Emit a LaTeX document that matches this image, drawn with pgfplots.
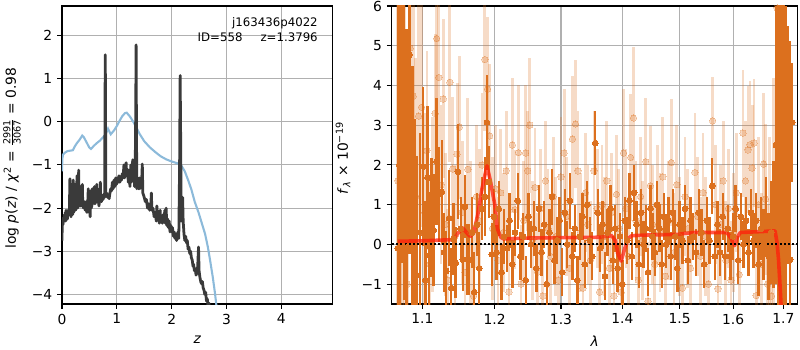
\documentclass[border=0pt]{standalone}
\usepackage{fontspec}
\setmainfont{DejaVu Sans}
\usepackage{amsmath}
\usepackage{pgfplots}
\usepackage{pgfplotstable}
\pgfplotsset{compat=1.18}
\definecolor{dk}{RGB}{220,112,30}
\definecolor{gridc}{RGB}{176,176,176}
\definecolor{blk}{RGB}{58,58,58}
\definecolor{blu}{RGB}{140,186,218}
\definecolor{rd}{RGB}{255,30,10}

\pgfplotstableread{
l f e
1.068 -0.10 7.0
1.070 2.00 7.0
1.073 5.53 6.0
1.076 4.59 6.0
1.079 -0.08 5.5
1.083 4.77 5.0
1.087 0.50 4.0
1.090 -0.34 3.5
1.093 -0.78 3.0
1.097 0.30 2.5
1.101 1.96 2.0
1.104 -0.90 2.0
1.107 1.68 1.8
1.109 -0.28 1.6
1.112 0.67 1.5
1.115 0.36 1.4
1.119 2.09 1.6
1.122 1.26 1.2
1.126 1.32 1.3
1.129 -0.20 1.0
1.132 -0.67 1.0
1.136 0.66 1.2
1.139 -1.10 1.0
1.142 0.14 0.9
1.145 -0.46 0.9
1.148 1.83 1.2
1.152 0.40 0.8
1.155 -0.38 0.8
1.158 0.95 0.8
1.161 -0.38 0.9
1.164 -0.38 0.9
1.168 0.30 0.9
1.171 -1.20 1.0
1.175 0.50 0.8
1.178 -0.60 0.9
1.182 0.90 0.8
1.186 1.20 1.0
1.189 3.07 1.2
1.192 1.57 0.9
1.196 -0.25 0.8
1.199 0.70 0.7
1.203 -0.20 0.7
1.206 0.90 0.7
1.210 -0.70 0.7
1.214 0.20 0.7
1.218 -0.10 0.6
1.222 0.60 0.7
1.226 -0.50 0.6
1.230 0.30 0.6
1.234 1.10 0.7
1.238 -0.30 0.6
1.242 0.20 0.6
1.246 -0.90 0.6
1.250 0.70 0.6
1.254 0.00 0.6
1.258 0.40 0.7
1.262 -0.60 0.6
1.266 0.90 0.6
1.270 -0.20 0.6
1.274 0.50 0.6
1.278 -1.00 0.6
1.282 0.30 0.6
1.286 1.20 0.7
1.290 -0.40 0.6
1.294 0.10 0.6
1.298 0.60 0.6
1.302 -0.70 0.6
1.306 0.80 0.6
1.310 0.00 0.6
1.314 1.10 0.7
1.318 -0.30 0.6
1.322 0.40 0.6
1.326 -0.90 0.6
1.330 0.20 0.6
1.334 0.70 0.6
1.338 -0.50 0.6
1.342 1.00 0.6
1.346 0.10 0.6
1.350 -0.30 0.6
1.355 2.55 0.8
1.359 0.80 0.6
1.363 -0.10 0.6
1.367 0.50 0.6
1.371 -0.80 0.6
1.375 0.30 0.6
1.380 0.90 0.6
1.384 -0.40 0.6
1.388 0.40 0.6
1.392 -0.60 0.6
1.396 0.20 0.6
1.400 -1.00 0.6
1.404 0.60 0.6
1.408 0.10 0.6
1.412 1.10 0.7
1.416 -0.30 0.6
1.420 1.30 0.7
1.424 0.50 0.6
1.428 -0.50 0.6
1.432 0.80 0.6
1.436 0.00 0.6
1.440 0.40 0.6
1.444 -0.70 0.6
1.448 0.90 0.6
1.452 0.20 0.6
1.456 -0.20 0.6
1.460 1.00 0.6
1.464 0.40 0.6
1.468 -0.50 0.6
1.472 0.70 0.6
1.476 0.00 0.6
1.480 0.60 0.6
1.484 -0.30 0.6
1.488 0.80 0.6
1.492 0.20 0.6
1.496 -0.60 0.6
1.500 0.50 0.6
1.505 0.10 0.6
1.510 0.90 0.6
1.515 -0.40 0.6
1.520 0.60 0.6
1.525 0.20 0.6
1.530 -0.20 0.6
1.535 0.80 0.6
1.540 0.30 0.6
1.545 -0.50 0.6
1.550 0.60 0.6
1.555 0.10 0.6
1.560 1.47 0.7
1.565 -0.30 0.6
1.570 0.50 0.6
1.575 -0.20 0.6
1.580 0.70 0.6
1.585 -0.30 0.6
1.590 0.40 0.6
1.595 -0.30 0.6
1.600 0.20 0.6
1.605 0.90 0.6
1.610 -0.40 0.6
1.615 0.70 0.6
1.620 0.00 0.6
1.625 0.60 0.6
1.630 -0.20 0.6
1.635 0.80 0.6
1.640 0.10 0.7
1.645 0.60 0.7
1.650 -0.50 0.8
1.655 0.40 0.8
1.660 0.00 0.9
1.665 0.70 1.0
1.670 -0.30 1.1
1.675 0.30 1.3
1.680 0.50 1.6
1.685 2.50 3.5
1.690 4.00 6.0
1.695 5.95 8.0
1.700 3.50 6.0
1.705 2.00 4.0
1.710 2.50 3.0
1.714 -0.38 5.5
1.718 3.07 1.5
}\dark

\pgfplotstableread{
l f e
1.068 1.60 6
1.071 3.70 6
1.074 0.50 6
1.077 2.70 5
1.080 -1.00 5
1.084 4.94 4
1.088 3.73 4
1.091 1.20 3.5
1.095 3.23 3
1.099 3.45 3
1.103 0.80 2.5
1.106 2.36 2.5
1.110 -0.50 2.2
1.113 1.00 2.2
1.117 3.30 2
1.119 5.18 2
1.122 4.20 2
1.125 1.50 2
1.128 3.66 2
1.131 0.50 1.8
1.134 -0.90 1.8
1.137 4.08 2
1.141 1.90 1.8
1.144 0.20 1.8
1.147 2.27 1.8
1.150 2.95 1.8
1.154 0.80 1.8
1.158 -0.70 1.8
1.162 1.89 1.8
1.166 0.30 1.8
1.170 -1.30 1.8
1.174 1.20 1.8
1.178 0.60 1.8
1.182 2.00 1.8
1.186 4.65 1.8
1.190 3.91 1.8
1.193 2.73 1.8
1.197 0.40 1.8
1.201 1.40 1.6
1.205 -0.40 1.6
1.209 1.30 1.6
1.213 0.30 1.5
1.217 1.85 1.5
1.221 -1.20 1.5
1.226 2.50 1.7
1.230 0.88 1.5
1.235 2.31 1.7
1.239 -1.00 1.5
1.243 0.60 1.5
1.246 2.30 1.7
1.249 1.85 1.5
1.252 3.00 1.7
1.256 0.10 1.5
1.260 1.43 1.5
1.264 -0.70 1.5
1.268 0.90 1.5
1.272 -1.30 1.5
1.276 1.60 1.5
1.280 0.40 1.5
1.284 -0.30 1.5
1.288 1.20 1.5
1.292 0.20 1.5
1.296 -0.90 1.5
1.300 1.70 1.5
1.305 2.30 1.6
1.309 0.70 1.5
1.313 -0.60 1.5
1.318 2.65 1.6
1.323 3.03 1.6
1.327 1.85 1.5
1.331 0.30 1.5
1.335 -1.10 1.5
1.339 1.30 1.5
1.343 0.50 1.5
1.347 -0.40 1.5
1.353 1.85 1.5
1.358 0.90 1.5
1.362 -1.20 1.5
1.366 1.00 1.5
1.370 0.20 1.5
1.374 1.60 1.5
1.378 -0.60 1.5
1.382 0.80 1.5
1.386 -1.30 1.5
1.390 1.26 1.5
1.394 0.40 1.5
1.398 -1.20 1.5
1.402 2.30 1.6
1.406 0.90 1.5
1.410 -0.30 1.5
1.414 2.19 1.6
1.419 3.18 1.8
1.423 0.60 1.5
1.427 -0.90 1.5
1.431 1.20 1.5
1.435 0.10 1.5
1.440 2.08 1.6
1.444 -1.43 1.5
1.448 1.47 1.5
1.452 0.50 1.5
1.456 -0.50 1.5
1.460 1.00 1.5
1.465 0.30 1.5
1.470 1.70 1.5
1.475 -0.80 1.5
1.480 0.60 1.5
1.485 2.06 1.6
1.490 -0.20 1.5
1.495 1.50 1.5
1.500 0.20 1.5
1.505 -1.10 1.5
1.510 1.20 1.5
1.515 0.40 1.5
1.520 -0.60 1.5
1.528 1.81 1.5
1.533 0.70 1.5
1.538 -0.30 1.5
1.543 1.30 1.5
1.548 0.20 1.5
1.553 -1.00 1.5
1.561 3.11 1.1
1.566 1.00 1.5
1.571 -1.12 1.5
1.576 0.50 1.5
1.581 1.60 1.5
1.586 -0.40 1.5
1.591 0.90 1.5
1.596 -0.90 1.5
1.601 0.30 1.5
1.606 1.30 1.5
1.612 -0.76 1.5
1.619 2.80 1.6
1.624 1.60 1.5
1.629 2.38 1.6
1.633 2.51 1.6
1.637 1.92 1.6
1.641 2.55 1.6
1.645 -1.29 1.6
1.650 1.00 1.7
1.655 -0.50 1.8
1.660 2.02 1.8
1.664 1.14 1.9
1.668 -1.00 2.0
1.672 0.50 2.2
1.676 -1.30 2.5
1.680 1.20 3.0
1.687 5.95 5.0
1.691 3.50 4.0
1.695 3.54 4.0
1.699 3.09 4.0
1.703 0.30 3.0
}\light

\pgfplotsset{mpl/.style={
  scale only axis, anchor=south west,
  axis line style={line width=0.8bp},
  every tick/.style={line width=0.8bp, black},
  major tick length=3.5bp,
  tick align=outside, tick pos=left,
  grid=major, major grid style={gridc, line width=0.8bp},
  tick label style={font=\fontsize{10}{12}\selectfont},
  label style={font=\fontsize{10}{12}\selectfont},
}}

\begin{document}
\begin{tikzpicture}
\path[use as bounding box] (0,0) rectangle (576bp,252bp);
% left panel
\begin{axis}[mpl, at={(44.6bp,33.1bp)}, width=195.1bp, height=214.6bp,
  xmin=0, xmax=4.94, ymin=-4.22, ymax=2.68,
  xtick={0,1,2,3,4}, xticklabels={0,1,2,3,4},
  ytick={-4,-3,-2,-1,0,1,2}, yticklabels={−4,−3,−2,−1,0,1,2},
  xlabel={\textit{z}},
  xlabel style={at={(axis description cs:0.5,-0.121)}, anchor=center},
  ylabel={log \textit{p}(\textit{z}) / \textit{χ}\textsuperscript{2} = $\frac{\text{2991}}{\text{3067}}$ = 0.98},
  ylabel style={at={(axis description cs:-0.1845,0.49)}, anchor=center},
]
\addplot[blu, line width=1.5bp] coordinates {
(0,-1.15) (0.008,-0.85) (0.02,-0.76) (0.05,-0.72) (0.10,-0.68) (0.15,-0.67) (0.20,-0.66)
(0.23,-0.58) (0.27,-0.50) (0.32,-0.42) (0.37,-0.32) (0.40,-0.36) (0.45,-0.48) (0.50,-0.60)
(0.53,-0.63) (0.58,-0.56) (0.63,-0.50) (0.69,-0.44) (0.75,-0.36) (0.80,-0.28) (0.84,-0.16)
(0.89,-0.29) (0.95,-0.20) (1.00,-0.10) (1.05,0.02) (1.10,0.13) (1.15,0.20) (1.18,0.21)
(1.24,0.12) (1.30,0.00) (1.36,-0.14) (1.42,-0.29) (1.50,-0.45) (1.60,-0.59) (1.70,-0.70)
(1.80,-0.80) (1.90,-0.87) (2.00,-0.92) (2.10,-0.96) (2.18,-1.02) (2.24,-1.15) (2.30,-1.35)
(2.36,-1.57) (2.42,-1.85) (2.49,-2.10) (2.55,-2.35) (2.61,-2.60) (2.66,-2.90) (2.70,-3.20)
(2.75,-3.60) (2.79,-3.97) (2.82,-4.30)
};
\addplot[blk, line width=2bp, line join=round] coordinates {
(0.000,-2.75) (0.005,-2.45) (0.012,-2.30) (0.020,-2.38) (0.028,-2.22) (0.036,-2.30)
(0.045,-2.15) (0.052,-2.28) (0.060,-2.10) (0.068,-2.30) (0.075,-2.05) (0.082,-2.20)
(0.090,-2.08) (0.100,-2.25) (0.110,-2.05) (0.120,-2.15) (0.135,-2.10) (0.145,-1.32)
(0.152,-2.10) (0.165,-2.20) (0.180,-2.05) (0.195,-2.15) (0.205,-1.35) (0.212,-2.10)
(0.225,-2.00) (0.235,-1.45) (0.245,-2.05) (0.26,-1.98) (0.275,-1.25) (0.283,-2.00)
(0.295,-1.95) (0.305,-1.12) (0.312,-1.90) (0.325,-1.95) (0.335,-1.50) (0.343,-1.95)
(0.36,-1.90) (0.372,-1.45) (0.380,-1.95) (0.395,-2.00) (0.41,-1.85) (0.425,-2.05)
(0.44,-1.85) (0.455,-2.10) (0.47,-1.90) (0.48,-1.55) (0.487,-1.95) (0.50,-2.00)
(0.515,-2.20) (0.525,-1.60) (0.533,-2.00) (0.545,-1.95) (0.555,-1.55) (0.562,-1.90)
(0.58,-1.85) (0.595,-1.50) (0.603,-1.90) (0.62,-1.80) (0.635,-1.45) (0.642,-1.85)
(0.66,-1.80) (0.675,-1.95) (0.69,-1.75) (0.70,-1.40) (0.708,-1.80) (0.72,-1.85)
(0.735,-1.70) (0.75,-1.80) (0.765,-1.70) (0.778,-1.75) (0.785,0.30) (0.790,1.55)
(0.796,-0.20) (0.800,-1.70) (0.815,-1.65) (0.83,-1.75) (0.845,-1.72) (0.86,-1.78)
(0.875,-1.65) (0.89,-1.55) (0.905,-1.60) (0.92,-1.40) (0.935,-1.55) (0.95,-1.35)
(0.965,-1.50) (0.98,-1.30) (0.995,-1.45) (1.01,-1.30) (1.025,-1.40) (1.04,-1.25)
(1.055,-1.40) (1.07,-1.30) (1.085,-1.35) (1.10,-1.20) (1.115,-1.30) (1.13,-1.00)
(1.14,-1.30) (1.155,-1.20) (1.17,-0.95) (1.18,-1.25) (1.195,-1.10) (1.21,-1.40)
(1.225,-1.15) (1.24,-1.50) (1.255,-1.00) (1.265,-1.40) (1.28,-1.20) (1.29,-0.88)
(1.30,-1.35) (1.315,-1.10) (1.325,-1.50) (1.335,-1.20) (1.345,0.20) (1.352,1.78)
(1.358,0.00) (1.365,-1.55) (1.38,-1.45) (1.395,-1.55) (1.41,-1.30) (1.42,-1.55)
(1.43,-1.45) (1.45,-1.50) (1.465,-0.98) (1.475,-1.65) (1.50,-1.75) (1.52,-1.85)
(1.54,-1.80) (1.56,-2.00) (1.58,-1.90) (1.60,-2.05) (1.62,-1.95) (1.63,-1.65)
(1.64,-2.05) (1.66,-2.00) (1.68,-2.20) (1.70,-2.10) (1.72,-2.30) (1.73,-1.95)
(1.745,-2.25) (1.76,-2.15) (1.775,-2.35) (1.79,-2.05) (1.80,-2.30) (1.815,-2.20)
(1.83,-2.35) (1.845,-2.15) (1.86,-2.30) (1.875,-2.05) (1.885,-2.35) (1.90,-2.00)
(1.91,-2.40) (1.925,-2.25) (1.94,-2.45) (1.955,-2.30) (1.97,-2.55) (1.985,-2.40)
(2.00,-2.55) (2.015,-2.45) (2.03,-2.65) (2.045,-2.55) (2.06,-2.70) (2.075,-2.60)
(2.09,-2.75) (2.10,-2.65) (2.115,-2.55) (2.13,-2.70) (2.145,-1.00) (2.155,1.07)
(2.165,-0.50) (2.175,-2.30) (2.19,-2.10) (2.20,-1.75) (2.21,-2.30) (2.225,-2.60)
(2.24,-2.75) (2.255,-2.65) (2.27,-2.80) (2.285,-2.75) (2.30,-2.95) (2.315,-2.90)
(2.33,-3.05) (2.345,-3.00) (2.36,-3.15) (2.375,-3.20) (2.39,-3.35) (2.40,-3.30)
(2.415,-3.45) (2.43,-3.40) (2.445,-3.55) (2.46,-3.50) (2.475,-3.35) (2.49,-2.90)
(2.50,-3.45) (2.515,-3.60) (2.53,-3.70) (2.545,-3.75) (2.56,-3.70) (2.575,-3.85)
(2.59,-3.90) (2.605,-4.00) (2.62,-3.95) (2.635,-4.15) (2.65,-4.10) (2.665,-4.30)
(2.68,-4.20) (2.70,-4.50)
};
\node[anchor=north east, align=right, inner sep=0pt, font=\fontsize{8.5}{10.8}\selectfont]
  at (rel axis cs:0.945,0.963) {j163436p4022\\ID=558\hspace{13bp}z=1.3796};
\end{axis}
% right panel
\begin{axis}[mpl, at={(282.0bp,33.1bp)}, width=292.5bp, height=214.6bp,
  xmode=log, xmin=1.060, xmax=1.730, ymin=-1.5, ymax=6.0,
  xtick={1.1,1.2,1.3,1.4,1.5,1.6,1.7}, xticklabels={1.1,1.2,1.3,1.4,1.5,1.6,1.7},
  minor xtick={},
  ytick={-1,0,1,2,3,4,5,6}, yticklabels={−1,0,1,2,3,4,5,6},
  xlabel={\textit{λ}},
  xlabel style={at={(axis description cs:0.5,-0.124)}, anchor=center},
  ylabel={\textit{f}\textsubscript{\textit{λ}} × 10\textsuperscript{−19}},
  ylabel style={at={(axis description cs:-0.1197,0.49)}, anchor=center},
]
\addplot[only marks, mark=*, mark size=2.3bp, color=dk,
  mark options={draw opacity=0.25, fill opacity=0.25, line width=0pt},
  error bars/.cd, y dir=both, y explicit,
  error bar style={line width=2bp, dk, opacity=0.25}, error mark=none]
  table[x=l, y=f, y error=e] {\light};
\addplot[only marks, mark=*, mark size=2.1bp, color=dk,
  mark options={line width=0pt},
  error bars/.cd, y dir=both, y explicit,
  error bar style={line width=1.7bp, dk}, error mark=none]
  table[x=l, y=f, y error=e] {\dark};
\addplot[rd, opacity=0.75, line width=2.6bp, line join=round] coordinates {
(1.068,0.08) (1.100,0.09) (1.142,0.12) (1.149,0.30) (1.155,0.41) (1.160,0.30) (1.165,0.20)
(1.170,0.28) (1.176,0.75) (1.182,1.40) (1.189,1.98) (1.194,1.60) (1.2006,0.97) (1.204,0.40)
(1.209,0.18) (1.213,0.14) (1.25,0.16) (1.30,0.17) (1.363,0.18) (1.382,0.22) (1.388,0.10)
(1.393,-0.25) (1.398,-0.42) (1.404,-0.10) (1.410,0.15) (1.416,0.22) (1.45,0.24) (1.497,0.25)
(1.51,0.28) (1.528,0.30) (1.588,0.30) (1.596,0.15) (1.6029,-0.03) (1.608,0.18) (1.614,0.30)
(1.65,0.32) (1.683,0.34) (1.687,0.05) (1.690,-0.38) (1.693,-1.0) (1.696,-1.7)
};
\addplot[black, line width=1.4bp, dash pattern=on 1.4bp off 1.6bp] coordinates {(1.05,0) (1.75,0)};
\node[anchor=center, inner sep=0pt, font=\fontsize{4.6}{5.5}\selectfont]
  at (rel axis cs:0.862,-0.117) {Sun Apr 26 12:23:15 2020};
\end{axis}
\end{tikzpicture}
\end{document}
